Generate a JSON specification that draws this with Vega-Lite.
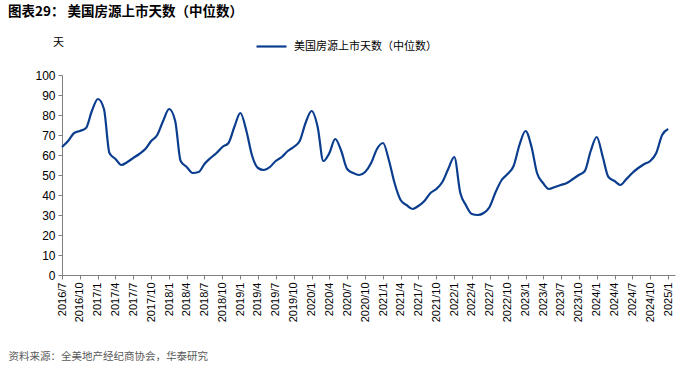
{
  "$schema": "https://vega.github.io/schema/vega-lite/v6.json",
  "width": 613,
  "height": 200,
  "autosize": {"type": "none"},
  "padding": {"left": 62, "top": 75, "right": 25, "bottom": 93},
  "background": "white",
  "title": {
    "text": "图表29：  美国房源上市天数（中位数）",
    "anchor": "start",
    "frame": "group",
    "dx": -54,
    "offset": 12,
    "font": "Noto Sans CJK SC",
    "fontSize": 13.5,
    "fontWeight": "bold",
    "color": "#000000"
  },
  "config": {
    "view": {"stroke": null},
    "axis": {"labelFont": "Liberation Sans", "titleFont": "Noto Sans CJK SC", "labelColor": "#000000", "domainColor": "#808080", "tickColor": "#808080", "grid": false}
  },
  "data": {
    "values": [
      {"month": "2016-07-01", "days": 64, "series": "美国房源上市天数（中位数）"},
      {"month": "2016-08-01", "days": 67, "series": "美国房源上市天数（中位数）"},
      {"month": "2016-09-01", "days": 71, "series": "美国房源上市天数（中位数）"},
      {"month": "2016-10-01", "days": 72, "series": "美国房源上市天数（中位数）"},
      {"month": "2016-11-01", "days": 73.5, "series": "美国房源上市天数（中位数）"},
      {"month": "2016-12-01", "days": 82, "series": "美国房源上市天数（中位数）"},
      {"month": "2017-01-01", "days": 88, "series": "美国房源上市天数（中位数）"},
      {"month": "2017-02-01", "days": 83, "series": "美国房源上市天数（中位数）"},
      {"month": "2017-03-01", "days": 61, "series": "美国房源上市天数（中位数）"},
      {"month": "2017-04-01", "days": 58, "series": "美国房源上市天数（中位数）"},
      {"month": "2017-05-01", "days": 55, "series": "美国房源上市天数（中位数）"},
      {"month": "2017-06-01", "days": 56.5, "series": "美国房源上市天数（中位数）"},
      {"month": "2017-07-01", "days": 58.5, "series": "美国房源上市天数（中位数）"},
      {"month": "2017-08-01", "days": 60.5, "series": "美国房源上市天数（中位数）"},
      {"month": "2017-09-01", "days": 63, "series": "美国房源上市天数（中位数）"},
      {"month": "2017-10-01", "days": 67, "series": "美国房源上市天数（中位数）"},
      {"month": "2017-11-01", "days": 70, "series": "美国房源上市天数（中位数）"},
      {"month": "2017-12-01", "days": 77, "series": "美国房源上市天数（中位数）"},
      {"month": "2018-01-01", "days": 83, "series": "美国房源上市天数（中位数）"},
      {"month": "2018-02-01", "days": 77, "series": "美国房源上市天数（中位数）"},
      {"month": "2018-03-01", "days": 57, "series": "美国房源上市天数（中位数）"},
      {"month": "2018-04-01", "days": 54, "series": "美国房源上市天数（中位数）"},
      {"month": "2018-05-01", "days": 51, "series": "美国房源上市天数（中位数）"},
      {"month": "2018-06-01", "days": 51.5, "series": "美国房源上市天数（中位数）"},
      {"month": "2018-07-01", "days": 55.5, "series": "美国房源上市天数（中位数）"},
      {"month": "2018-08-01", "days": 58.5, "series": "美国房源上市天数（中位数）"},
      {"month": "2018-09-01", "days": 61, "series": "美国房源上市天数（中位数）"},
      {"month": "2018-10-01", "days": 64, "series": "美国房源上市天数（中位数）"},
      {"month": "2018-11-01", "days": 66, "series": "美国房源上市天数（中位数）"},
      {"month": "2018-12-01", "days": 74, "series": "美国房源上市天数（中位数）"},
      {"month": "2019-01-01", "days": 81, "series": "美国房源上市天数（中位数）"},
      {"month": "2019-02-01", "days": 72, "series": "美国房源上市天数（中位数）"},
      {"month": "2019-03-01", "days": 60, "series": "美国房源上市天数（中位数）"},
      {"month": "2019-04-01", "days": 53.5, "series": "美国房源上市天数（中位数）"},
      {"month": "2019-05-01", "days": 52.5, "series": "美国房源上市天数（中位数）"},
      {"month": "2019-06-01", "days": 54, "series": "美国房源上市天数（中位数）"},
      {"month": "2019-07-01", "days": 57, "series": "美国房源上市天数（中位数）"},
      {"month": "2019-08-01", "days": 59, "series": "美国房源上市天数（中位数）"},
      {"month": "2019-09-01", "days": 62, "series": "美国房源上市天数（中位数）"},
      {"month": "2019-10-01", "days": 64, "series": "美国房源上市天数（中位数）"},
      {"month": "2019-11-01", "days": 67, "series": "美国房源上市天数（中位数）"},
      {"month": "2019-12-01", "days": 76, "series": "美国房源上市天数（中位数）"},
      {"month": "2020-01-01", "days": 82, "series": "美国房源上市天数（中位数）"},
      {"month": "2020-02-01", "days": 74, "series": "美国房源上市天数（中位数）"},
      {"month": "2020-03-01", "days": 57, "series": "美国房源上市天数（中位数）"},
      {"month": "2020-04-01", "days": 61, "series": "美国房源上市天数（中位数）"},
      {"month": "2020-05-01", "days": 68, "series": "美国房源上市天数（中位数）"},
      {"month": "2020-06-01", "days": 62, "series": "美国房源上市天数（中位数）"},
      {"month": "2020-07-01", "days": 53, "series": "美国房源上市天数（中位数）"},
      {"month": "2020-08-01", "days": 51, "series": "美国房源上市天数（中位数）"},
      {"month": "2020-09-01", "days": 50, "series": "美国房源上市天数（中位数）"},
      {"month": "2020-10-01", "days": 51.5, "series": "美国房源上市天数（中位数）"},
      {"month": "2020-11-01", "days": 56, "series": "美国房源上市天数（中位数）"},
      {"month": "2020-12-01", "days": 63, "series": "美国房源上市天数（中位数）"},
      {"month": "2021-01-01", "days": 66, "series": "美国房源上市天数（中位数）"},
      {"month": "2021-02-01", "days": 57, "series": "美国房源上市天数（中位数）"},
      {"month": "2021-03-01", "days": 46, "series": "美国房源上市天数（中位数）"},
      {"month": "2021-04-01", "days": 37.5, "series": "美国房源上市天数（中位数）"},
      {"month": "2021-05-01", "days": 35, "series": "美国房源上市天数（中位数）"},
      {"month": "2021-06-01", "days": 33, "series": "美国房源上市天数（中位数）"},
      {"month": "2021-07-01", "days": 34.5, "series": "美国房源上市天数（中位数）"},
      {"month": "2021-08-01", "days": 37, "series": "美国房源上市天数（中位数）"},
      {"month": "2021-09-01", "days": 41, "series": "美国房源上市天数（中位数）"},
      {"month": "2021-10-01", "days": 43, "series": "美国房源上市天数（中位数）"},
      {"month": "2021-11-01", "days": 46.5, "series": "美国房源上市天数（中位数）"},
      {"month": "2021-12-01", "days": 53, "series": "美国房源上市天数（中位数）"},
      {"month": "2022-01-01", "days": 59, "series": "美国房源上市天数（中位数）"},
      {"month": "2022-02-01", "days": 41, "series": "美国房源上市天数（中位数）"},
      {"month": "2022-03-01", "days": 35, "series": "美国房源上市天数（中位数）"},
      {"month": "2022-04-01", "days": 30.5, "series": "美国房源上市天数（中位数）"},
      {"month": "2022-05-01", "days": 30, "series": "美国房源上市天数（中位数）"},
      {"month": "2022-06-01", "days": 31, "series": "美国房源上市天数（中位数）"},
      {"month": "2022-07-01", "days": 34, "series": "美国房源上市天数（中位数）"},
      {"month": "2022-08-01", "days": 41.5, "series": "美国房源上市天数（中位数）"},
      {"month": "2022-09-01", "days": 47.5, "series": "美国房源上市天数（中位数）"},
      {"month": "2022-10-01", "days": 50.5, "series": "美国房源上市天数（中位数）"},
      {"month": "2022-11-01", "days": 54.5, "series": "美国房源上市天数（中位数）"},
      {"month": "2022-12-01", "days": 65, "series": "美国房源上市天数（中位数）"},
      {"month": "2023-01-01", "days": 72, "series": "美国房源上市天数（中位数）"},
      {"month": "2023-02-01", "days": 64, "series": "美国房源上市天数（中位数）"},
      {"month": "2023-03-01", "days": 51, "series": "美国房源上市天数（中位数）"},
      {"month": "2023-04-01", "days": 46, "series": "美国房源上市天数（中位数）"},
      {"month": "2023-05-01", "days": 43, "series": "美国房源上市天数（中位数）"},
      {"month": "2023-06-01", "days": 44, "series": "美国房源上市天数（中位数）"},
      {"month": "2023-07-01", "days": 45, "series": "美国房源上市天数（中位数）"},
      {"month": "2023-08-01", "days": 46, "series": "美国房源上市天数（中位数）"},
      {"month": "2023-09-01", "days": 48, "series": "美国房源上市天数（中位数）"},
      {"month": "2023-10-01", "days": 50, "series": "美国房源上市天数（中位数）"},
      {"month": "2023-11-01", "days": 52, "series": "美国房源上市天数（中位数）"},
      {"month": "2023-12-01", "days": 62, "series": "美国房源上市天数（中位数）"},
      {"month": "2024-01-01", "days": 69, "series": "美国房源上市天数（中位数）"},
      {"month": "2024-02-01", "days": 59, "series": "美国房源上市天数（中位数）"},
      {"month": "2024-03-01", "days": 49, "series": "美国房源上市天数（中位数）"},
      {"month": "2024-04-01", "days": 47, "series": "美国房源上市天数（中位数）"},
      {"month": "2024-05-01", "days": 45, "series": "美国房源上市天数（中位数）"},
      {"month": "2024-06-01", "days": 48, "series": "美国房源上市天数（中位数）"},
      {"month": "2024-07-01", "days": 51, "series": "美国房源上市天数（中位数）"},
      {"month": "2024-08-01", "days": 53.5, "series": "美国房源上市天数（中位数）"},
      {"month": "2024-09-01", "days": 55.5, "series": "美国房源上市天数（中位数）"},
      {"month": "2024-10-01", "days": 57, "series": "美国房源上市天数（中位数）"},
      {"month": "2024-11-01", "days": 61, "series": "美国房源上市天数（中位数）"},
      {"month": "2024-12-01", "days": 70, "series": "美国房源上市天数（中位数）"},
      {"month": "2025-01-01", "days": 73, "series": "美国房源上市天数（中位数）"}
    ]
  },
  "mark": {"type": "line", "interpolate": "monotone", "strokeWidth": 2.2},
  "encoding": {
    "x": {
      "field": "month",
      "type": "temporal",
      "scale": {"domain": ["2016-07-01T00:00:00", "2025-02-05T00:00:00"]},
      "axis": {
        "values": ["2016-07-01T00:00:00","2016-10-01T00:00:00","2017-01-01T00:00:00","2017-04-01T00:00:00","2017-07-01T00:00:00","2017-10-01T00:00:00","2018-01-01T00:00:00","2018-04-01T00:00:00","2018-07-01T00:00:00","2018-10-01T00:00:00","2019-01-01T00:00:00","2019-04-01T00:00:00","2019-07-01T00:00:00","2019-10-01T00:00:00","2020-01-01T00:00:00","2020-04-01T00:00:00","2020-07-01T00:00:00","2020-10-01T00:00:00","2021-01-01T00:00:00","2021-04-01T00:00:00","2021-07-01T00:00:00","2021-10-01T00:00:00","2022-01-01T00:00:00","2022-04-01T00:00:00","2022-07-01T00:00:00","2022-10-01T00:00:00","2023-01-01T00:00:00","2023-04-01T00:00:00","2023-07-01T00:00:00","2023-10-01T00:00:00","2024-01-01T00:00:00","2024-04-01T00:00:00","2024-07-01T00:00:00","2024-10-01T00:00:00","2025-01-01T00:00:00"],
        "format": "%Y/%-m",
        "labelAngle": -90,
        "labelFontSize": 11,
        "labelPadding": 3,
        "tickSize": 4,
        "labelOverlap": false,
        "labelFlush": false,
        "title": "资料来源：全美地产经纪商协会，华泰研究",
        "titleFontSize": 10.5,
        "titleFontWeight": "normal",
        "titleColor": "#595959",
        "titleAnchor": "start",
        "titleAlign": "left",
        "titleBaseline": "middle",
        "titleX": -54,
        "titleY": 81
      }
    },
    "y": {
      "field": "days",
      "type": "quantitative",
      "scale": {"domain": [0, 100]},
      "axis": {
        "values": [0, 10, 20, 30, 40, 50, 60, 70, 80, 90, 100],
        "labelFontSize": 12,
        "tickSize": 4,
        "labelPadding": 3,
        "title": "天",
        "titleAngle": 0,
        "titleFontSize": 11,
        "titleFontWeight": "normal",
        "titleColor": "#000000",
        "titleAlign": "center",
        "titleBaseline": "middle",
        "titleX": -4,
        "titleY": -33
      }
    },
    "color": {
      "field": "series",
      "type": "nominal",
      "scale": {"range": ["#0B3D8E"]},
      "legend": {
        "title": null,
        "orient": "none",
        "legendX": 193,
        "legendY": -45,
        "symbolType": "stroke",
        "symbolSize": 900,
        "symbolStrokeWidth": 2.2,
        "labelFont": "Noto Sans CJK SC",
        "labelFontSize": 11,
        "labelColor": "#000000",
        "labelOffset": 6
      }
    }
  }
}
